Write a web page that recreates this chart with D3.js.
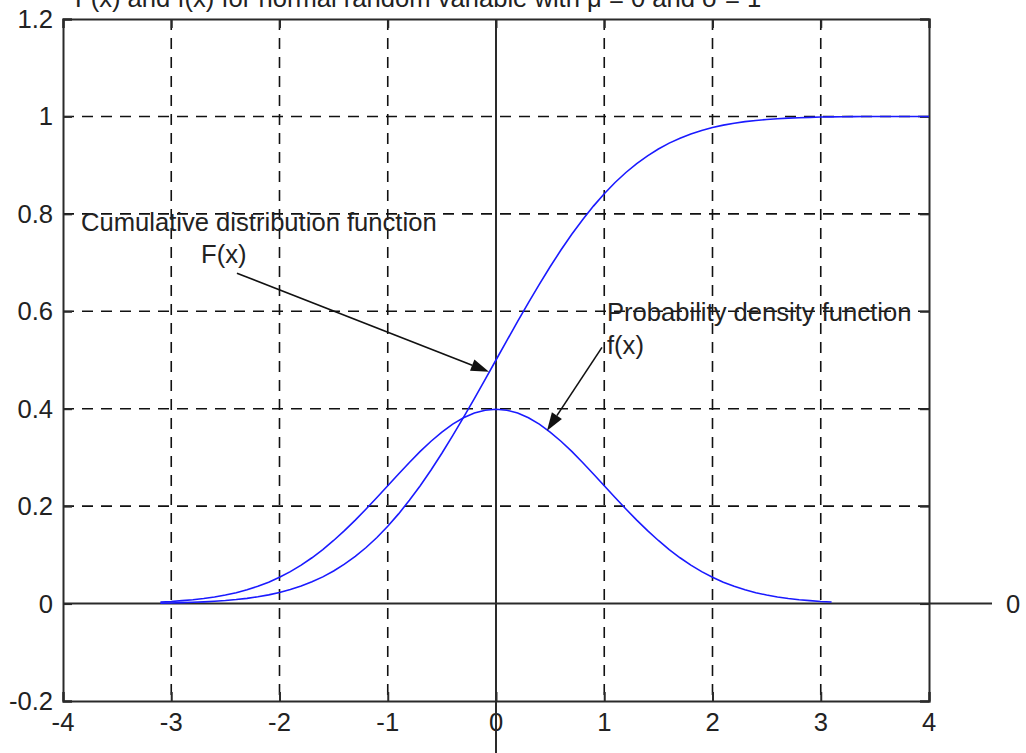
<!DOCTYPE html>
<html>
<head>
<meta charset="utf-8">
<script src="https://cdn.jsdelivr.net/npm/d3@7"></script>
<style>
  html, body { margin: 0; padding: 0; background: #fff; }
  svg { display: block; }
  text { font-family: "Liberation Sans", Arial, sans-serif; fill: #222; }
</style>
</head>
<body>
<svg id="chart" width="1026" height="753"></svg>
<script>
// ---- data ----
const titleText = "F(x) and f(x) for normal random variable with \u03bc = 0 and \u03c3 = 1";
const xTicks = [-4, -3, -2, -1, 0, 1, 2, 3, 4];
const xTickLabels = ["-4", "-3", "-2", "-1", "0", "1", "2", "3", "4"];
const yTicks = [-0.2, 0, 0.2, 0.4, 0.6, 0.8, 1, 1.2];
const yTickLabels = ["-0.2", "0", "0.2", "0.4", "0.6", "0.8", "1", "1.2"];

const pdfX = [-3.1,-3.0,-2.9,-2.8,-2.7,-2.6,-2.5,-2.4,-2.3,-2.2,-2.1,-2.0,-1.9,-1.8,-1.7,-1.6,-1.5,-1.4,-1.3,-1.2,-1.1,-1.0,-0.9,-0.8,-0.7,-0.6,-0.5,-0.4,-0.3,-0.2,-0.1,0,
  0.1,0.2,0.3,0.4,0.5,0.6,0.7,0.8,0.9,1.0,1.1,1.2,1.3,1.4,1.5,1.6,1.7,1.8,1.9,2.0,2.1,2.2,2.3,2.4,2.5,2.6,2.7,2.8,2.9,3.0,3.1];
const pdfY = [0.0033,0.0044,0.0060,0.0079,0.0104,0.0136,0.0175,0.0224,0.0283,0.0355,0.0440,0.0540,0.0656,0.0790,0.0940,0.1109,0.1295,0.1497,0.1714,0.1942,0.2179,0.2420,0.2661,0.2897,0.3123,0.3332,0.3521,0.3683,0.3814,0.3910,0.3970,0.3989,
  0.3970,0.3910,0.3814,0.3683,0.3521,0.3332,0.3123,0.2897,0.2661,0.2420,0.2179,0.1942,0.1714,0.1497,0.1295,0.1109,0.0940,0.0790,0.0656,0.0540,0.0440,0.0355,0.0283,0.0224,0.0175,0.0136,0.0104,0.0079,0.0060,0.0044,0.0033];

const cdfX = [-3.1,-3.0,-2.9,-2.8,-2.7,-2.6,-2.5,-2.4,-2.3,-2.2,-2.1,-2.0,-1.9,-1.8,-1.7,-1.6,-1.5,-1.4,-1.3,-1.2,-1.1,-1.0,-0.9,-0.8,-0.7,-0.6,-0.5,-0.4,-0.3,-0.2,-0.1,0,
  0.1,0.2,0.3,0.4,0.5,0.6,0.7,0.8,0.9,1.0,1.1,1.2,1.3,1.4,1.5,1.6,1.7,1.8,1.9,2.0,2.1,2.2,2.3,2.4,2.5,2.6,2.7,2.8,2.9,3.0,3.1,3.2,3.3,3.4,3.5,3.6,3.7,3.8,3.9,4.0];
const cdfY = [0.0010,0.0013,0.0019,0.0026,0.0035,0.0047,0.0062,0.0082,0.0107,0.0139,0.0179,0.0228,0.0287,0.0359,0.0446,0.0548,0.0668,0.0808,0.0968,0.1151,0.1357,0.1587,0.1841,0.2119,0.2420,0.2743,0.3085,0.3446,0.3821,0.4207,0.4602,0.5000,
  0.5398,0.5793,0.6179,0.6554,0.6915,0.7257,0.7580,0.7881,0.8159,0.8413,0.8643,0.8849,0.9032,0.9192,0.9332,0.9452,0.9554,0.9641,0.9713,0.9772,0.9821,0.9861,0.9893,0.9918,0.9938,0.9953,0.9965,0.9974,0.9981,0.9987,0.9990,0.9993,0.9995,0.9997,0.9998,0.9998,0.9999,0.9999,1.0000,1.0000];

// annotation texts and arrows (data coordinates)
const annTexts = ["Cumulative distribution function", "F(x)", "Probability density function", "f(x)"];
const annTextX = [-3.834, -2.725, 1.025, 1.025];
const annTextY = [0.764, 0.700, 0.581, 0.513];
const arrowFrom = [[-2.393, 0.678], [0.979, 0.526]];
const arrowTo = [[-0.065, 0.476], [0.471, 0.355]];

// ---- drawing ----
(function () {
const svg = d3.select("#chart");
const pL = 63, pR = 929, pT = 19, pB = 701;
const x = d3.scaleLinear().domain([-4, 4]).range([pL, pR]);
const y = d3.scaleLinear().domain([-0.2, 1.2]).range([pB, pT]);
const FS = 25.6;
const axisColor = "#2a2a2a";

// title (clipped at top like the reference)
svg.append("text").attr("x", 75).attr("y", 7).attr("font-size", FS).text(titleText);

// grid
const grid = svg.append("g").attr("stroke", "#111").attr("stroke-width", 1.6).attr("stroke-dasharray", "11,8");
xTicks.filter(t => t > -4 && t < 4 && t !== 0).forEach(t => {
  grid.append("line").attr("x1", x(t)).attr("x2", x(t)).attr("y1", pT).attr("y2", pB);
});
yTicks.filter(t => t > -0.2 && t < 1.2 && t !== 0).forEach(t => {
  grid.append("line").attr("y1", y(t)).attr("y2", y(t)).attr("x1", pL).attr("x2", pR);
});

// axes via d3 axis generators (inner ticks)
const tickLen = 9;
const gB = svg.append("g").attr("transform", `translate(0,${pB})`)
  .call(d3.axisTop(x).tickValues(xTicks).tickSize(tickLen).tickFormat(""));
const gT = svg.append("g").attr("transform", `translate(0,${pT})`)
  .call(d3.axisBottom(x).tickValues(xTicks).tickSize(tickLen).tickFormat(""));
const gL = svg.append("g").attr("transform", `translate(${pL},0)`)
  .call(d3.axisRight(y).tickValues(yTicks).tickSize(tickLen).tickFormat(""));
const gR = svg.append("g").attr("transform", `translate(${pR},0)`)
  .call(d3.axisLeft(y).tickValues(yTicks).tickSize(tickLen).tickFormat(""));
[gB, gT, gL, gR].forEach(g => {
  g.selectAll("path.domain").attr("stroke", axisColor).attr("stroke-width", 2);
  g.selectAll(".tick line").attr("stroke", axisColor).attr("stroke-width", 2);
});

// tick labels
svg.append("g").selectAll("text").data(xTicks).join("text")
  .attr("x", d => x(d)).attr("y", 731).attr("text-anchor", "middle").attr("font-size", FS)
  .text((d, i) => xTickLabels[i]);
svg.append("g").selectAll("text").data(yTicks).join("text")
  .attr("x", 53).attr("y", d => y(d) + 9).attr("text-anchor", "end").attr("font-size", FS)
  .text((d, i) => yTickLabels[i]);

// zero lines
svg.append("line").attr("x1", x(0)).attr("x2", x(0)).attr("y1", pT).attr("y2", 753)
  .attr("stroke", axisColor).attr("stroke-width", 2);
svg.append("line").attr("x1", pL).attr("x2", 992).attr("y1", y(0)).attr("y2", y(0))
  .attr("stroke", axisColor).attr("stroke-width", 2);
svg.append("text").attr("x", 1013).attr("y", y(0) + 9).attr("text-anchor", "middle")
  .attr("font-size", FS).text("0");

// curves
const line = d3.line().x(d => x(d[0])).y(d => y(d[1]));
svg.append("path").datum(cdfX.map((v, i) => [v, cdfY[i]])).attr("d", line)
  .attr("fill", "none").attr("stroke", "#1a1aff").attr("stroke-width", 1.6);
svg.append("path").datum(pdfX.map((v, i) => [v, pdfY[i]])).attr("d", line)
  .attr("fill", "none").attr("stroke", "#1a1aff").attr("stroke-width", 1.6);

// annotations
annTexts.forEach((t, i) => {
  svg.append("text").attr("x", x(annTextX[i])).attr("y", y(annTextY[i]))
    .attr("font-size", FS).text(t);
});
arrowFrom.forEach((f, i) => {
  const x1 = x(f[0]), y1 = y(f[1]), x2 = x(arrowTo[i][0]), y2 = y(arrowTo[i][1]);
  const ang = Math.atan2(y2 - y1, x2 - x1);
  const L = 18, W = 6;
  const bx = x2 - L * Math.cos(ang), by = y2 - L * Math.sin(ang);
  svg.append("line").attr("x1", x1).attr("y1", y1).attr("x2", bx).attr("y2", by)
    .attr("stroke", "#111").attr("stroke-width", 1.6);
  const px = -Math.sin(ang) * W, py = Math.cos(ang) * W;
  svg.append("polygon")
    .attr("points", `${x2},${y2} ${bx + px},${by + py} ${bx - px},${by - py}`)
    .attr("fill", "#111");
});
})();
</script>
</body>
</html>
